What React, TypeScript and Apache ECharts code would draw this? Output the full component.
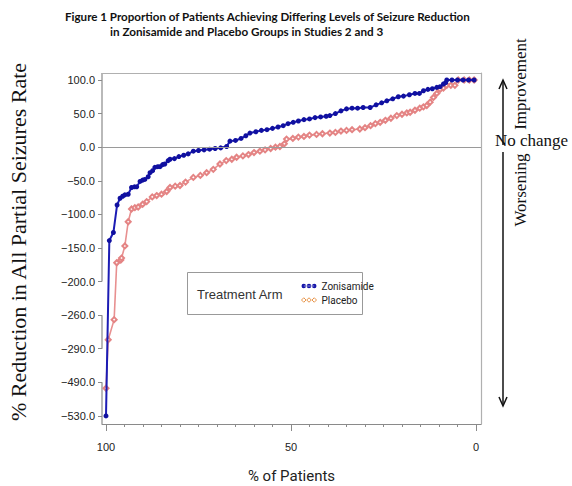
import React, { useEffect, useRef } from "react";
import * as echarts from "echarts";

// % of patients (x) vs % reduction (y)
const zonisamideX = [100.0, 99.1, 98.0, 97.0, 96.2, 95.5, 94.9, 94.0, 93.1, 92.3, 91.7, 90.8, 90.1, 89.5, 88.6, 88.1, 87.4, 86.8, 86.0, 85.4, 84.7, 84.1, 83.2, 82.7, 81.5, 80.3, 79.0, 77.8, 76.4, 75.0, 73.5, 72.0, 70.5, 69.0, 67.4, 66.5, 65.0, 63.5, 62.2, 61.1, 59.5, 58.0, 56.5, 55.0, 53.5, 52.1, 50.8, 49.4, 48.0, 46.5, 45.0, 43.5, 42.0, 40.5, 39.5, 38.0, 36.5, 35.0, 33.5, 32.0, 30.5, 28.6, 27.0, 25.5, 24.1, 22.5, 21.0, 19.6, 18.0, 16.5, 15.3, 14.2, 13.0, 11.8, 10.6, 9.7, 8.8, 8.2, 7.9, 6.5, 5.0, 3.5, 2.0, 0.5];
const zonisamideY = [-530, -139, -127, -86, -76, -73, -71, -70, -60, -59, -59, -51, -49, -48, -44, -38, -35, -30, -29, -29, -26, -25, -20, -18, -17, -14, -12, -10, -6, -5, -4, -3, -2, -1, 1, 9, 10, 13, 17, 21, 23, 25, 26, 28, 30, 32, 35, 37, 39, 41, 42, 44, 45, 46, 47, 50, 54, 57, 58, 58, 59, 59, 63, 66, 69, 72, 75, 76, 78, 80, 80, 84, 86, 87, 89, 90, 94, 96, 100, 100, 100, 100, 100, 100];

const placeboX = [100.0, 99.4, 97.8, 97.1, 96.0, 95.8, 94.9, 94.0, 93.1, 92.2, 91.3, 90.1, 89.0, 87.5, 86.3, 85.0, 83.6, 82.7, 81.3, 80.0, 78.5, 76.4, 74.5, 72.8, 71.0, 69.2, 67.5, 66.0, 64.7, 63.0, 61.5, 60.0, 58.4, 57.0, 55.5, 54.2, 53.0, 51.8, 51.2, 49.5, 48.0, 46.5, 45.0, 43.1, 41.5, 39.5, 38.0, 36.5, 35.0, 33.5, 31.4, 30.0, 28.5, 27.2, 25.9, 24.5, 23.0, 21.4, 20.0, 18.7, 17.8, 16.5, 15.2, 14.2, 13.3, 12.4, 11.5, 10.6, 9.7, 8.8, 7.9, 6.8, 5.7, 4.8, 3.2, 1.8, 0.5];
const placeboY = [-497, -282, -264, -172, -168, -165, -147, -111, -92, -90, -89, -85, -81, -74, -72, -70, -66, -60, -58, -57, -52, -45, -42, -38, -33, -25, -20, -18, -15, -13, -11, -8, -6, -4, -2, 0, 1, 5, 12, 13, 15, 16, 18, 19, 20, 21, 22, 24, 25, 26, 27, 29, 32, 35, 37, 40, 43, 47, 49, 51, 52, 55, 58, 60, 62, 67, 74, 80, 86, 88, 92, 92, 92, 100, 100, 100, 100];

// y tick labels (evenly spaced, broken scale)
const yTickLabels = [100, 50, 0, -50, -100, -150, -200, -260, -290, -490, -530];
const xLabelTicks = [0, 50, 100];
const xMinorTicks = [0, 5, 10, 15, 20, 25, 30, 35, 40, 45, 50, 55, 60, 65, 70, 75, 80, 85, 90, 95, 100];

// map a value onto the evenly spaced broken scale (t = -tickIndex)
function tf(v: number): number {
  const V = yTickLabels;
  if (v >= V[0]) return -((V[0] - v) / (V[0] - V[1]));
  for (let k = 0; k < V.length - 1; k++) {
    if (v <= V[k] && v >= V[k + 1]) {
      return -(k + (V[k] - v) / (V[k] - V[k + 1]));
    }
  }
  const n = V.length - 1;
  return -(n + (V[n] - v) / (V[n - 1] - V[n]));
}

function fmt(v: number): string {
  const s = Math.abs(v).toFixed(1);
  return v < 0 ? "\u2212" + s : s;
}

const circles3 = "path://M0,3a3,3 0 1,0 6,0a3,3 0 1,0 -6,0z M7,3a3,3 0 1,0 6,0a3,3 0 1,0 -6,0z M14,3a3,3 0 1,0 6,0a3,3 0 1,0 -6,0z M3,2.6L17,2.6L17,3.4L3,3.4z";
const diamonds3 = "path://M0,3L3,0L6,3L3,6z M7,3L10,0L13,3L10,6z M14,3L17,0L20,3L17,6z";

export default function App() {
  const ref = useRef<HTMLDivElement>(null);
  useEffect(() => {
    if (!ref.current) return;
    const chart = echarts.init(ref.current, undefined, { renderer: "svg" });
    const X_MIN = -1.35;
    const X_MAX = 101.08;
    const Y_MIN = -10.24;
    const Y_MAX = 0.208;
    const blueData = zonisamideX.map((x, i) => [x, tf(zonisamideY[i])]);
    const redData = placeboX.map((x, i) => [x, tf(placeboY[i])]);
    const yTickPos = yTickLabels.map((_, k) => -k);
    const sans = "'Liberation Sans', Arial, sans-serif";
    const serif = "'Liberation Serif', 'Times New Roman', serif";
    const gridBox = { left: 102, right: 91, top: 73, bottom: 62, outerBoundsMode: "none", containLabel: false };
    const axisGrey = "#8a8a8a";
    const frameGrey = "#b0b0b0";

    chart.setOption({
      animation: false,
      grid: [gridBox, { ...gridBox }],
      xAxis: [
        {
          gridIndex: 0, position: "bottom",
          type: "value", inverse: true, min: X_MIN, max: X_MAX,
          axisLine: { show: true, onZero: false, lineStyle: { color: axisGrey, width: 1.2 } },
          axisTick: { show: true, customValues: xMinorTicks, length: 3, lineStyle: { color: axisGrey } },
          axisLabel: { customValues: xLabelTicks, margin: 17, fontSize: 11, color: "#222", fontFamily: sans },
          splitLine: { show: false },
          name: "% of Patients", nameLocation: "middle", nameGap: 44,
          nameTextStyle: { fontSize: 15, fontFamily: "Roboto, sans-serif", color: "#222" },
        },
        {
          gridIndex: 0, position: "top",
          type: "value", inverse: true, min: X_MIN, max: X_MAX,
          axisLine: { show: true, onZero: false, lineStyle: { color: frameGrey, width: 1.2 } },
          axisTick: { show: false }, axisLabel: { show: false }, splitLine: { show: false },
        },
        {
          gridIndex: 1, position: "bottom",
          type: "value", inverse: true, min: X_MIN, max: X_MAX,
          axisLine: { show: false, onZero: false },
          axisTick: { show: true, customValues: xLabelTicks, length: 7, lineStyle: { color: axisGrey } },
          axisLabel: { show: false }, splitLine: { show: false },
        },
      ],
      yAxis: [
        {
          gridIndex: 0, position: "left",
          type: "value", min: Y_MIN, max: Y_MAX,
          axisLine: { show: false, onZero: false },
          axisTick: { show: true, customValues: yTickPos, length: 4, lineStyle: { color: axisGrey } },
          axisLabel: {
            customValues: yTickPos, margin: 7, fontSize: 11, color: "#222", fontFamily: sans,
            formatter: (v: number) => {
              const k = Math.round(-v);
              return yTickLabels[k] !== undefined ? fmt(yTickLabels[k]) : "";
            },
          },
          splitLine: { show: false },
        },
        {
          gridIndex: 0, position: "right",
          type: "value", min: Y_MIN, max: Y_MAX,
          axisLine: { show: true, onZero: false, lineStyle: { color: frameGrey, width: 1.2 } },
          axisTick: { show: false }, axisLabel: { show: false }, splitLine: { show: false },
        },
        {
          gridIndex: 1, position: "left",
          type: "value", min: Y_MIN, max: Y_MAX, show: false,
        },
      ],
      legend: {
        orient: "vertical", left: 296, top: 276, itemGap: 4, itemWidth: 15, itemHeight: 5,
        textStyle: { fontSize: 10, color: "#222", fontFamily: "Roboto, sans-serif" },
        data: [
          { name: "Zonisamide", icon: circles3, itemStyle: { color: "#1414a8" } },
          { name: "Placebo", icon: diamonds3, itemStyle: { color: "#ffffff", borderColor: "#e8964c", borderWidth: 1 } },
        ],
        z: 10,
      },
      series: [
        {
          name: "Placebo", type: "line", xAxisIndex: 0, yAxisIndex: 0, data: redData,
          symbol: "emptyDiamond", symbolSize: 5, showSymbol: true,
          lineStyle: { color: "#e89090", width: 1.6 },
          itemStyle: { color: "#e48484", borderWidth: 1 },
          z: 3,
        },
        {
          name: "Zonisamide", type: "line", xAxisIndex: 0, yAxisIndex: 0, data: blueData,
          symbol: "circle", symbolSize: 5, showSymbol: true,
          lineStyle: { color: "#1c1cb4", width: 2 },
          itemStyle: { color: "#1010a0" },
          markLine: {
            silent: true, symbol: "none", label: { show: false },
            lineStyle: { color: "#9a9a9a", width: 1.2, type: "solid" },
            data: [{ yAxis: tf(0) }],
          },
          z: 4,
        },
      ],
    });

    const py = (v: number) => chart.convertToPixel({ yAxisIndex: 0 }, tf(v)) as number;
    const yTop = chart.convertToPixel({ yAxisIndex: 0 }, Y_MAX) as number;
    const yBot = chart.convertToPixel({ yAxisIndex: 0 }, Y_MIN) as number;
    const xLeft = chart.convertToPixel({ xAxisIndex: 0 }, X_MAX) as number;
    const axisStyle = { stroke: axisGrey, lineWidth: 1.2 };
    const seg = (a: number, b: number) => ({
      type: "line", silent: true, shape: { x1: xLeft, y1: a, x2: xLeft, y2: b }, style: axisStyle,
    });

    chart.setOption({
      graphic: [
        seg(yTop, py(-200)),
        seg(py(-260), py(-290)),
        seg(py(-490), yBot),
        {
          type: "text", x: 65, y: 16,
          style: { text: "Figure 1 Proportion of Patients Achieving Differing Levels of Seizure Reduction", fontSize: 11.6, fontWeight: "bold", fontFamily: "Lato, sans-serif", fill: "#111", align: "left", verticalAlign: "middle" },
        },
        {
          type: "text", x: 110, y: 31,
          style: { text: "in Zonisamide and Placebo Groups in Studies 2 and 3", fontSize: 11.7, fontWeight: "bold", fontFamily: "Lato, sans-serif", fill: "#111", align: "left", verticalAlign: "middle" },
        },
        {
          type: "text", x: 18, y: 242, rotation: Math.PI / 2,
          style: { text: "% Reduction in All Partial Seizures Rate", fontSize: 22, fontFamily: serif, fill: "#111", align: "center", verticalAlign: "middle" },
        },
        {
          type: "rect", shape: { x: 187.5, y: 272.5, width: 175, height: 42 },
          style: { fill: "#fff", stroke: "#999", lineWidth: 1 }, z: 5,
        },
        {
          type: "text", x: 197, y: 294, z: 6,
          style: { text: "Treatment Arm", fontSize: 13, fontFamily: sans, fill: "#333", align: "left", verticalAlign: "middle" },
        },
        // right annotation
        { type: "line", shape: { x1: 503, y1: 145, x2: 503, y2: 81 }, style: { stroke: "#111", lineWidth: 1.5 } },
        { type: "polyline", shape: { points: [[499, 89], [503, 80], [507, 89]] }, style: { stroke: "#111", lineWidth: 1.5, fill: "none" } },
        { type: "line", shape: { x1: 503, y1: 152, x2: 503, y2: 405 }, style: { stroke: "#111", lineWidth: 1.5 } },
        { type: "polyline", shape: { points: [[499, 397], [503, 406], [507, 397]] }, style: { stroke: "#111", lineWidth: 1.5, fill: "none" } },
        {
          type: "text", x: 520, y: 84, rotation: Math.PI / 2,
          style: { text: "Improvement", fontSize: 17, fontFamily: serif, fill: "#111", align: "center", verticalAlign: "middle" },
        },
        {
          type: "text", x: 495, y: 140,
          style: { text: "No change", fontSize: 17, fontFamily: serif, fill: "#111", align: "left", verticalAlign: "middle" },
        },
        {
          type: "text", x: 520, y: 190, rotation: Math.PI / 2,
          style: { text: "Worsening", fontSize: 17, fontFamily: serif, fill: "#111", align: "center", verticalAlign: "middle" },
        },
      ],
    });

    return () => chart.dispose();
  }, []);
  return <div ref={ref} style={{ position: "fixed", left: 0, top: 0, width: 572, height: 486, background: "#fff" }} />;
}
